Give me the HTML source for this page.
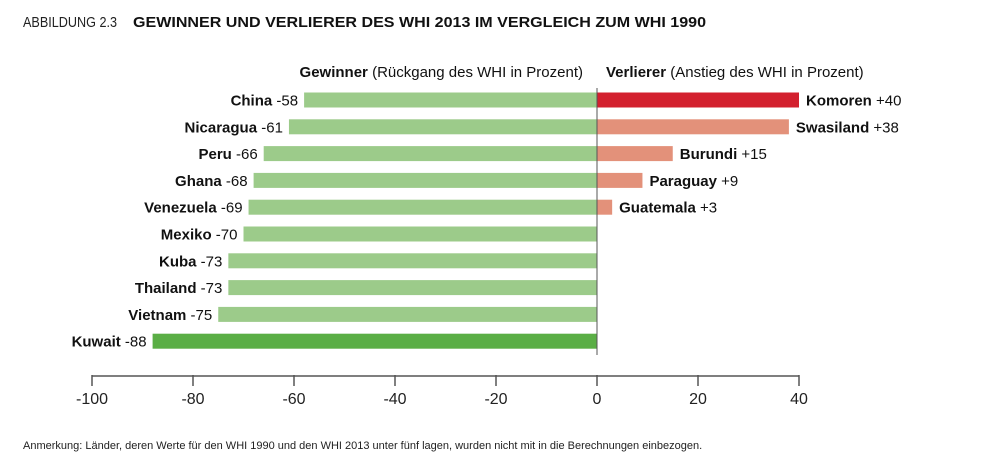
<!DOCTYPE html>
<html><head><meta charset="utf-8"><style>
body{margin:0;background:#fff;width:1000px;height:469px;overflow:hidden;font-family:"Liberation Sans",sans-serif;}
svg text{font-family:"Liberation Sans",sans-serif;}
</style></head><body>
<svg id="chart" width="1000" height="469" xmlns="http://www.w3.org/2000/svg">
<text x="23" y="27" font-size="15" fill="#222" textLength="94" lengthAdjust="spacingAndGlyphs">ABBILDUNG 2.3</text>
<text x="133" y="27" font-size="15" font-weight="bold" fill="#111" textLength="573" lengthAdjust="spacingAndGlyphs">GEWINNER UND VERLIERER DES WHI 2013 IM VERGLEICH ZUM WHI 1990</text>
<text x="583" y="77" font-size="15" text-anchor="end" fill="#111"><tspan font-weight="bold">Gewinner</tspan> (Rückgang des WHI in Prozent)</text>
<text x="606" y="77" font-size="15" fill="#111"><tspan font-weight="bold">Verlierer</tspan> (Anstieg des WHI in Prozent)</text>
<g id="bars"></g>
<g id="axis"></g>
<text x="23" y="449" font-size="11" fill="#222">Anmerkung: Länder, deren Werte für den WHI 1990 und den WHI 2013 unter fünf lagen, wurden nicht mit in die Berechnungen einbezogen.</text>
</svg>
<script>
const winners = ["China","Nicaragua","Peru","Ghana","Venezuela","Mexiko","Kuba","Thailand","Vietnam","Kuwait"];
const winnerValues = [-58,-61,-66,-68,-69,-70,-73,-73,-75,-88];
const losers = ["Komoren","Swasiland","Burundi","Paraguay","Guatemala"];
const loserValues = [40,38,15,9,3];
const ticks = [-100,-80,-60,-40,-20,0,20,40];

const NS="http://www.w3.org/2000/svg";
const x = v => 597 + v*5.05;
const yRow = i => 100 + i*26.8;
const bars=document.getElementById('bars'), axis=document.getElementById('axis');
function mk(tag,attrs,parent){const e=document.createElementNS(NS,tag);for(const k in attrs)e.setAttribute(k,attrs[k]);parent.appendChild(e);return e;}
function label(parent,tx,ty,anchor,name,val){
  const t=mk('text',{x:tx,y:ty,'font-size':15,'text-anchor':anchor,fill:'#111'},parent);
  
  
  const a=mk('tspan',{'font-weight':'bold'},t);a.textContent=name;
  const b=mk('tspan',{},t);b.textContent=' '+(val>0?'+':'')+val;
}
winners.forEach((n,i)=>{
  const v=winnerValues[i], y=yRow(i);
  const r=mk('rect',{x:x(v),y:y-7.5,width:x(0)-x(v),height:15,fill:i===winners.length-1?'#5aae45':'#9ccb8a'},bars);
  
  
  label(bars,x(v)-6,y+5.5,'end',n,v);
});
losers.forEach((n,i)=>{
  const v=loserValues[i], y=yRow(i);
  const r=mk('rect',{x:x(0),y:y-7.5,width:x(v)-x(0),height:15,fill:i===0?'#d3202e':'#e3917a'},bars);
  
  
  label(bars,x(v)+7,y+5.5,'start',n,v);
});
const zl=mk('line',{x1:x(0),x2:x(0),y1:88,y2:355,stroke:'#555','stroke-width':1},axis);


const al=mk('line',{x1:x(-100),x2:x(40),y1:376,y2:376,stroke:'#555','stroke-width':1.5},axis);


ticks.forEach(t=>{
  const l=mk('line',{x1:x(t),x2:x(t),y1:375,y2:386,stroke:'#555','stroke-width':1.5},axis);
  
  
  const tx=mk('text',{x:x(t),y:404,'font-size':16,'text-anchor':'middle',fill:'#222'},axis);
  
  
  tx.textContent=t;
});
</script>
</body></html>
